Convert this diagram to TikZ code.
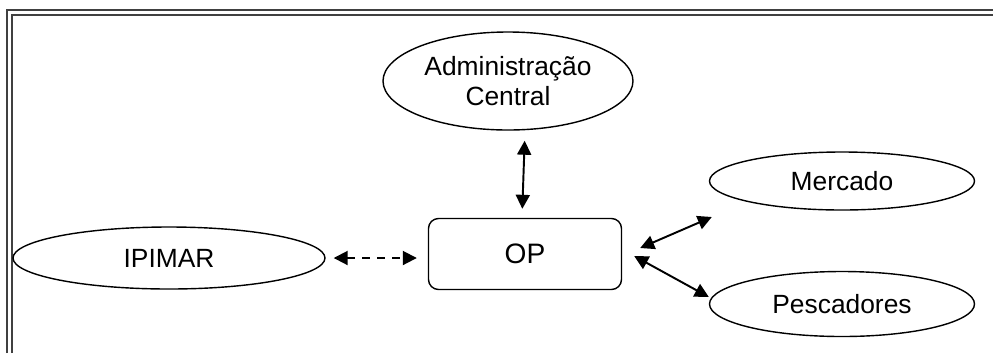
\documentclass[tikz,border=0pt]{standalone}
\usepackage{fontspec}
\setmainfont{Liberation Sans}
\usepackage{tikz}
\usetikzlibrary{arrows.meta, positioning, shapes.geometric}
\definecolor{framegray}{RGB}{64,64,64}
\tikzstyle{actor}  = [ellipse, draw, line width=0.8pt, inner sep=0pt, align=center,
                       font=\fontsize{15}{17}\selectfont]
\tikzstyle{arr}    = [{Triangle[length=0.28cm, width=0.28cm]}-{Triangle[length=0.28cm, width=0.28cm]},
                       line width=1.1pt]

\begin{document}
\begin{tikzpicture}[
      core/.style={rectangle, rounded corners=0.2cm, draw, line width=0.8pt,
                   minimum width=3.86cm, minimum height=1.42cm,
                   font=\fontsize{16}{18}\selectfont},
      rim/.style={framegray, line width=1.1pt},
    ]
    \useasboundingbox (0,0) rectangle (19.86,-7.06);
    % double frame, cut at right and bottom
    \draw[rim] (0.14,-7.06) -- (0.14,-0.2) -- (19.86,-0.2);
    \draw[rim] (0.24,-7.06) -- (0.24,-0.3) -- (19.86,-0.3);

    \node[actor, minimum width=5cm, minimum height=1.96cm]     (admin) at (10.16,-1.62)
      {Administração\\Central};
    \node[core]                                                (op) at (10.5,-5.08) {OP};
    \node[actor, minimum width=6.24cm, minimum height=1.24cm]  (ipimar) at (3.38,-5.16) {IPIMAR};
    \node[actor, minimum width=5.3cm, minimum height=1.16cm]   (mercado) at (16.84,-3.62) {Mercado};
    \node[actor, minimum width=5.3cm, minimum height=1.3cm]    (pescadores) at (16.84,-6.08) {Pescadores};

    \draw[arr, shorten <=0.2cm, shorten >=0.18cm] (op.north |- admin.south) -- ([xshift=-0.06cm]op.north);
    \draw[arr, dash pattern=on 0.16cm off 0.14cm, shorten <=0.16cm, shorten >=0.22cm]
      (ipimar.east) -- (ipimar.east -| op.west);
    \draw[arr] ([xshift=0.36cm, yshift=0.12cm]op.east) -- ([xshift=0.06cm, yshift=-0.72cm]mercado.west);
    \draw[arr] ([xshift=0.24cm, yshift=-0.04cm]op.east) -- ([yshift=0.14cm]pescadores.west);
  \end{tikzpicture}
\end{document}
